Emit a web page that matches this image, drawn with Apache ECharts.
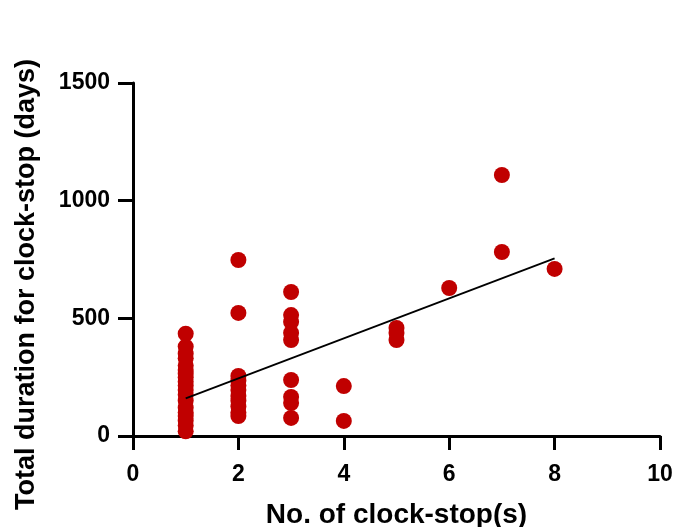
<!DOCTYPE html>
<html>
<head>
<meta charset="utf-8">
<script src="https://cdn.jsdelivr.net/npm/echarts@6/dist/echarts.min.js"></script>
<style>
  html, body { margin: 0; padding: 0; background: #fff; }
  #chart { width: 678px; height: 527px; }
</style>
</head>
<body>
<div id="chart"></div>
<script>
// clock-stop counts and total durations (days)
const stops1 = [435, 380, 350, 330, 300, 280, 265, 250, 230, 215, 195, 175, 150, 120, 100, 85, 65, 45, 20];
const stops2 = [748, 523, 255, 235, 215, 195, 170, 150, 125, 100, 85];
const stops3 = [612, 514, 485, 438, 408, 238, 166, 140, 77];
const stops4 = [212, 64];
const stops5 = [459, 438, 408];
const stops6 = [629];
const stops7 = [1109, 782];
const stops8 = [710];
const fitX = [1, 8];
const fitY = [160, 755];
const xTicks = [0, 2, 4, 6, 8, 10];
const yTicks = [0, 500, 1000, 1500];

const groups = [stops1, stops2, stops3, stops4, stops5, stops6, stops7, stops8];
let points = [];
groups.forEach((vals, i) => {
  vals.forEach(v => points.push([i + 1, v]));
});

const font = "'Liberation Sans', Arial, sans-serif";

const option = {
  animation: false,
  grid: { left: 133, right: 18, top: 83, bottom: 91, outerBoundsMode: "none" },
  xAxis: {
    type: "value",
    min: xTicks[0],
    max: xTicks[xTicks.length - 1],
    interval: 2,
    name: "No. of clock-stop(s)",
    nameLocation: "middle",
    nameGap: 65,
    nameTextStyle: { fontFamily: font, fontWeight: "bold", fontSize: 28, color: "#000" },
    axisLine: { onZero: false, lineStyle: { color: "#000", width: 3 } },
    axisTick: { length: 14, lineStyle: { color: "#000", width: 3 } },
    axisLabel: { fontFamily: font, fontWeight: "bold", fontSize: 23, color: "#000", margin: 27 },
    splitLine: { show: false },
  },
  yAxis: {
    type: "value",
    min: yTicks[0],
    max: yTicks[yTicks.length - 1],
    interval: 500,
    name: "Total duration for clock-stop (days)",
    nameLocation: "middle",
    nameGap: 93,
    nameTextStyle: {
      fontFamily: font, fontWeight: "bold", fontSize: 27, color: "#000",
      padding: [0, 50, 0, 0],
    },
    axisLine: { show: true, onZero: false, lineStyle: { color: "#000", width: 3 } },
    axisTick: { show: true, length: 15, lineStyle: { color: "#000", width: 3 } },
    axisLabel: {
      fontFamily: font, fontWeight: "bold", fontSize: 23, color: "#000", margin: 23,
      formatter: v => String(v),
    },
    splitLine: { show: false },
  },
  series: [
    {
      type: "scatter",
      data: points,
      symbolSize: 16,
      itemStyle: { color: "#c00000", opacity: 1 },
      z: 3,
    },
    {
      type: "line",
      data: fitX.map((x, i) => [x, fitY[i]]),
      showSymbol: false,
      lineStyle: { color: "#000", width: 1.8 },
      z: 4,
    },
  ],
};

let myChart = echarts.init(document.getElementById("chart"));
myChart.setOption(option);
</script>
</body>
</html>
